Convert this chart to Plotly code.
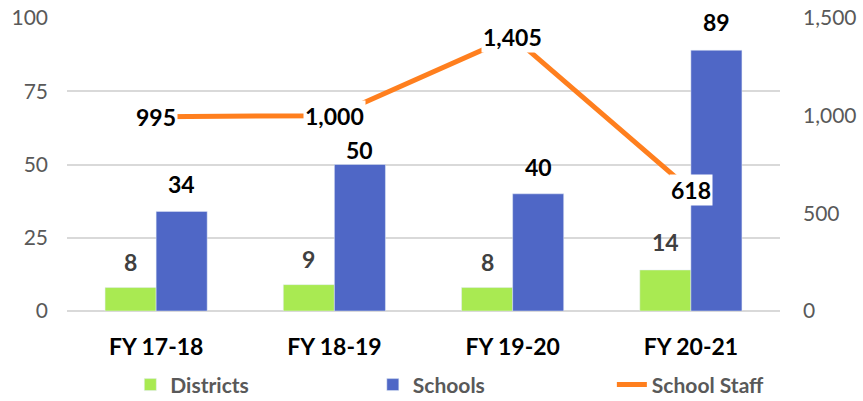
import plotly.graph_objects as go

categories = ["FY 17-18", "FY 18-19", "FY 19-20", "FY 20-21"]
districts = [8, 9, 8, 14]
schools = [34, 50, 40, 89]
staff = [995, 1000, 1405, 618]
left_ticks = [0, 25, 50, 75, 100]
right_ticks = [0, 500, 1000, 1500]
right_tick_text = ["0", "500", "1,000", "1,500"]

GREEN = "#A9EA52"
BLUE = "#4F67C6"
ORANGE = "#FF7F1E"
FONT = "Lato"

W, H = 863, 401
ML, MR, MT, MB = 67, 83, 18, 90
BARGAP = 0.427
plot_w = W - ML - MR
bar_px = plot_w / len(categories) * (1 - BARGAP) / 2

# label gap above bars (px); the "50" label sits closer to its bar in the original
district_label_gap = [26, 26, 26, 28]
school_label_gap = [27, 15, 27, 28]

fig = go.Figure()
fig.add_bar(x=categories, y=districts, name="<b>Districts</b>", marker_color=GREEN,
            yaxis="y", legend="legend", showlegend=True)
fig.add_bar(x=categories, y=schools, name="<b>Schools</b>", marker_color=BLUE,
            yaxis="y", legend="legend2", showlegend=True)
fig.add_scatter(x=categories, y=staff, name="<b>School Staff</b>", mode="lines",
                line=dict(color=ORANGE, width=5), yaxis="y2", legend="legend3",
                showlegend=True)

ann = []
for c, v, g in zip(categories, districts, district_label_gap):
    ann.append(dict(x=c, y=v, xref="x", yref="y", text=f"<b>{v}</b>", showarrow=False,
                    xshift=-bar_px / 2, yshift=g, font=dict(family=FONT, size=23, color="#404040")))
for c, v, g in zip(categories, schools, school_label_gap):
    ann.append(dict(x=c, y=v, xref="x", yref="y", text=f"<b>{v}</b>", showarrow=False,
                    xshift=bar_px / 2, yshift=g, font=dict(family=FONT, size=23, color="#000000")))
for c, v in zip(categories, staff):
    ann.append(dict(x=c, y=v, xref="x", yref="y2", text=f"<b>{v:,}</b>", showarrow=False,
                    bgcolor="white", borderpad=1,
                    font=dict(family=FONT, size=23, color="#000000")))

leg_common = dict(orientation="h", xref="container", yref="container", y=0.04,
                  xanchor="left", yanchor="middle", bgcolor="rgba(0,0,0,0)",
                  font=dict(family=FONT, size=21, color="#595959"))

fig.update_layout(
    width=W, height=H,
    showlegend=True,
    margin=dict(l=ML, r=MR, t=MT, b=MB, autoexpand=False),
    paper_bgcolor="white", plot_bgcolor="white",
    barmode="group", bargap=BARGAP, bargroupgap=0,
    font=dict(family=FONT, color="#595959"),
    xaxis=dict(tickfont=dict(family=FONT, size=23, color="#000000"),
               tickprefix="<b>", ticksuffix="</b>", showline=False, ticks="",
               showgrid=False, ticklabelstandoff=20),
    yaxis=dict(range=[0, 100], tickvals=left_ticks, showgrid=True, gridcolor="#D9D9D9",
               gridwidth=1.5, zeroline=True, zerolinecolor="#D9D9D9", zerolinewidth=1.5,
               tickfont=dict(family=FONT, size=21, color="#595959"), ticks="",
               ticklabelstandoff=18),
    yaxis2=dict(range=[0, 1500], tickvals=right_ticks, ticktext=right_tick_text,
                overlaying="y", side="right", showgrid=False, zeroline=False,
                tickfont=dict(family=FONT, size=21, color="#595959"), ticks="",
                ticklabelstandoff=22),
    legend=dict(x=0.151, **leg_common),
    legend2=dict(x=0.432, **leg_common),
    legend3=dict(x=0.709, **leg_common),
    annotations=ann,
)
fig.write_html("out.html")
